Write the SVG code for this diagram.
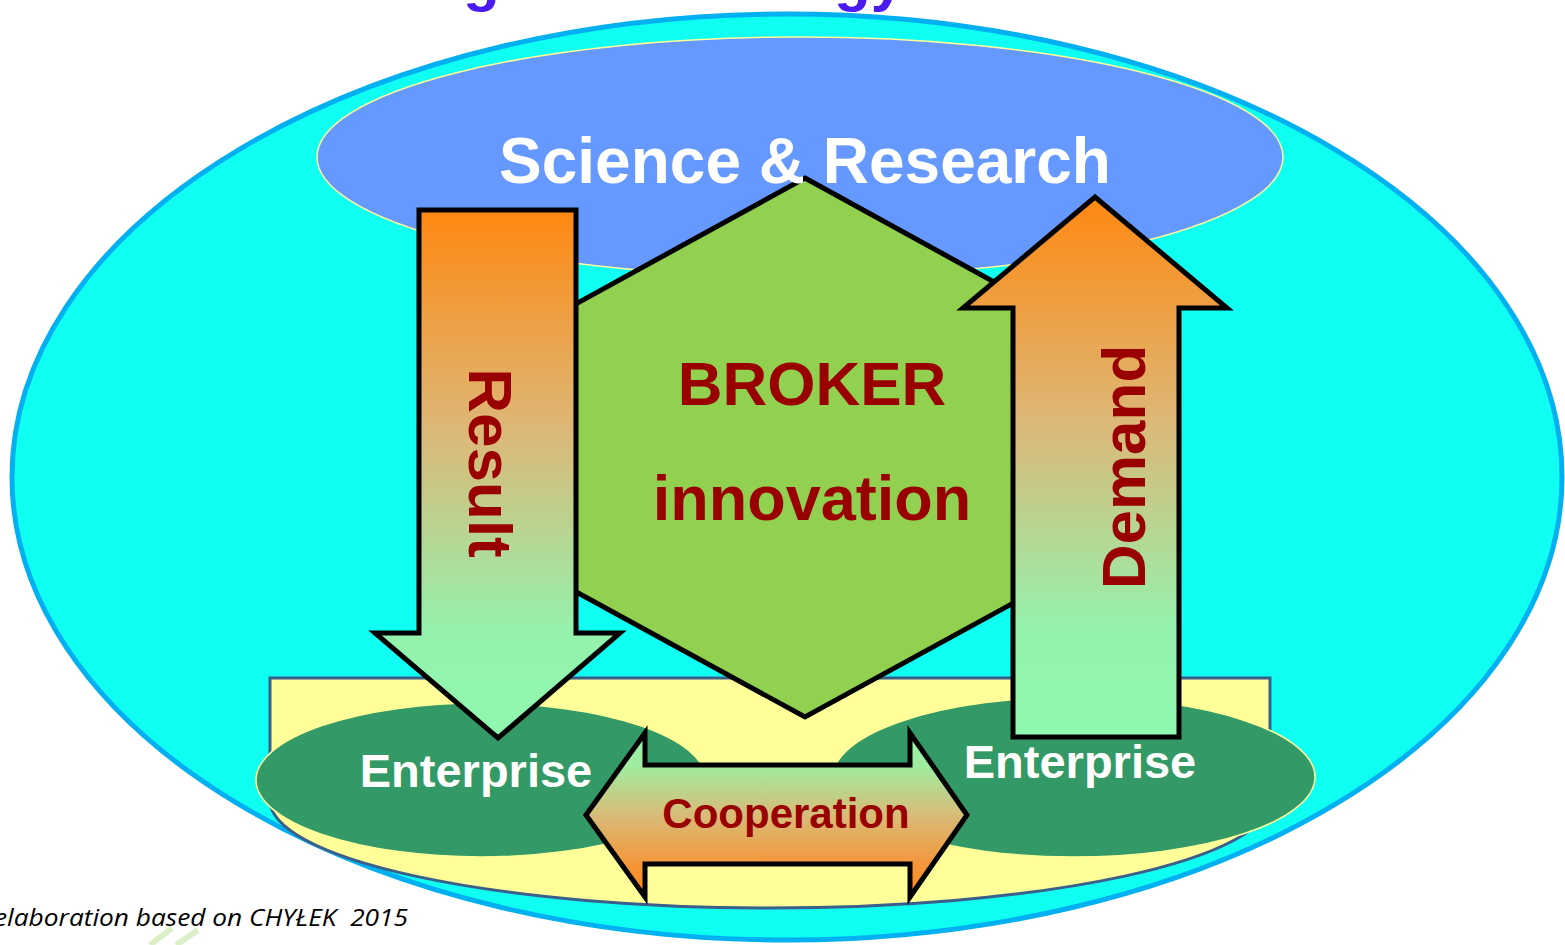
<svg xmlns="http://www.w3.org/2000/svg" width="1565" height="945" viewBox="0 0 1565 945">
  <style>
    .bold { font-family: "Liberation Sans", Arial, sans-serif; font-weight: bold; }
    .white { fill: #FFFFFF; }
    .red { fill: #990000; }
    .arrow { stroke: #000000; stroke-width: 5; stroke-linejoin: miter; stroke-miterlimit: 10; }
    .ent { fill: #339966; stroke: #FFFF99; stroke-width: 1.5; }
  </style>
  <defs>
    <linearGradient id="gDown" x1="0" y1="0" x2="0" y2="1">
      <stop offset="0" stop-color="#FF8811"/>
      <stop offset="0.42" stop-color="#DCB878"/>
      <stop offset="0.8" stop-color="#94F2AC"/>
      <stop offset="1" stop-color="#90F8B0"/>
    </linearGradient>
    <linearGradient id="gCoop" x1="0" y1="0" x2="0" y2="1">
      <stop offset="0" stop-color="#94F4AC"/>
      <stop offset="0.2" stop-color="#A0ECA0"/>
      <stop offset="0.5" stop-color="#D8BC78"/>
      <stop offset="0.8" stop-color="#F5963A"/>
      <stop offset="1" stop-color="#FF8818"/>
    </linearGradient>
  </defs>

  <rect width="1565" height="945" fill="#FFFFFF"/>

  <!-- title fragments (cut off at top) -->
  <g id="title" class="bold" fill="#4A1AF0" font-size="60">
    <text x="463" y="0">g</text>
    <text x="834" y="0">gy</text>
  </g>

  <g id="outer">
    <ellipse cx="787" cy="477" rx="775" ry="463" fill="#0FFFF3" stroke="#00B0F0" stroke-width="5"/>
  </g>

  <g id="science">
    <ellipse cx="800" cy="157" rx="483" ry="120" fill="#6699FF" stroke="#FFFF99" stroke-width="1.5"/>
  </g>

  <g id="base">
    <path d="M270,678 H1270 V800 A500,108 0 0 1 270,800 Z" fill="#FFFF99" stroke="#3A5F8B" stroke-width="3"/>
  </g>

  <g id="enterprise-left">
    <ellipse class="ent" cx="481" cy="780" rx="225" ry="77"/>
  </g>
  <g id="enterprise-right">
    <ellipse class="ent" cx="1074" cy="777" rx="241" ry="80"/>
  </g>

  <g id="broker">
    <polygon class="arrow" points="805,178 1178,383 1178,513 805,717 432,513 432,383" fill="#92D050"/>
    <text class="bold red" x="812" y="405" font-size="62" text-anchor="middle">BROKER</text>
    <text class="bold red" x="812" y="520" font-size="63" text-anchor="middle">innovation</text>
  </g>

  <g id="science-label">
    <text class="bold white" x="805" y="183" font-size="64" text-anchor="middle">Science &amp; Research</text>
  </g>

  <g id="connectors">
    <g id="result">
      <polygon class="arrow" points="419,210 576,210 576,633 620,633 498,738 375,633 419,633" fill="url(#gDown)"/>
      <text class="bold red" font-size="62" text-anchor="middle" transform="translate(469,463) rotate(90)">Result</text>
    </g>
    <g id="demand">
      <polygon class="arrow" points="1013,737 1013,308 963,308 1095,197 1227,308 1179,308 1179,737" fill="url(#gDown)"/>
      <text class="bold red" font-size="62" text-anchor="middle" transform="translate(1145,467) rotate(-90)">Demand</text>
    </g>
    <g id="cooperation">
      <polygon class="arrow" points="586,815 645,733 645,765 910,765 910,733 967,815 910,897 910,864 645,864 645,897" fill="url(#gCoop)"/>
      <text class="bold red" x="786" y="828" font-size="42" text-anchor="middle">Cooperation</text>
    </g>
  </g>

  <g id="enterprise-labels">
    <text class="bold white" x="476" y="787" font-size="47" text-anchor="middle">Enterprise</text>
    <text class="bold white" x="1080" y="778" font-size="47" text-anchor="middle">Enterprise</text>
  </g>

  <g id="caption">
    <path d="M150,945 L172,928 M176,945 L198,930" stroke="#DDEFC8" stroke-width="6" fill="none"/>
    <text x="-6" y="926" font-family="'Open Sans', 'Liberation Sans', sans-serif" font-style="italic" font-size="24" fill="#000000" textLength="414" lengthAdjust="spacingAndGlyphs" xml:space="preserve">elaboration based on CHYŁEK  2015</text>
  </g>
</svg>
